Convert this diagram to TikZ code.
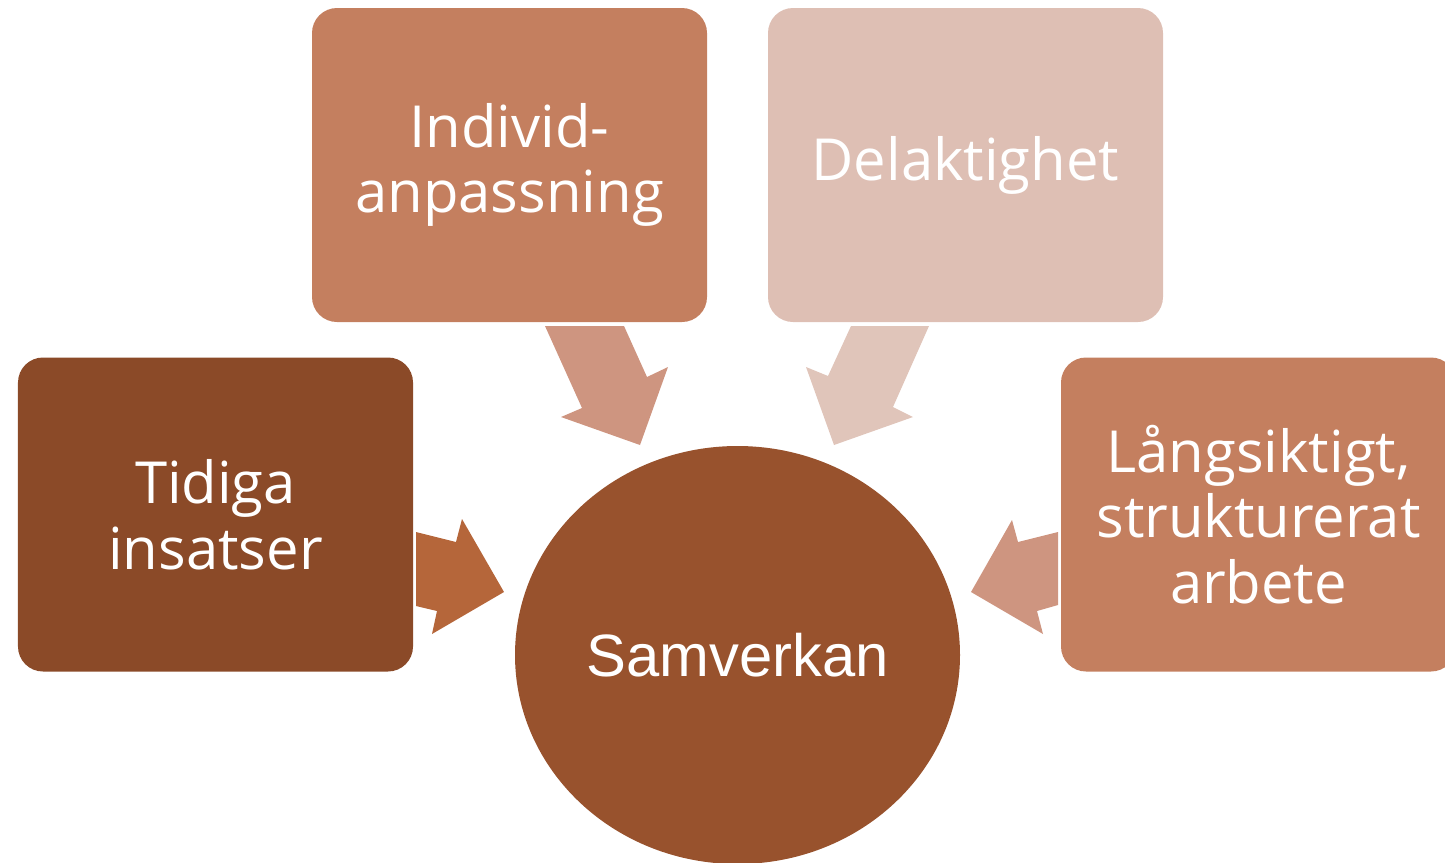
\documentclass[tikz,border=0pt]{standalone}
\usepackage{fontspec}
\setmainfont{Open Sans}
\newfontfamily\hubfont{Liberation Sans}
\usetikzlibrary{shapes.geometric}

\definecolor{boxdark}{HTML}{8B4A28}
\definecolor{boxmid}{HTML}{C47F5F}
\definecolor{boxlight}{HTML}{DEBFB4}
\definecolor{hubfill}{HTML}{98522D}
\definecolor{arrowdark}{HTML}{B5663A}
\definecolor{arrowmid}{HTML}{CE9580}
\definecolor{arrowlight}{HTML}{E0C5BA}

\tikzset{
  box/.style={rectangle, rounded corners=5mm, fill=#1, draw=none,
    minimum width=79mm, minimum height=62.8mm, inner sep=0pt,
    align=center, text=white, font=\fontsize{33}{37.4}\selectfont},
  hub/.style={ellipse, fill=hubfill, draw=none, minimum width=89mm,
    minimum height=83.6mm, inner sep=0pt, text=white,
    font=\hubfont\fontsize{34}{40}\selectfont},
  blockarrow/.style={fill=#1, draw=none}
}

\begin{document}
\begin{tikzpicture}[x=0.2mm,y=-0.2mm]
\useasboundingbox (0,0) rectangle (1445,862);
\clip (0,0) rectangle (1445,862);

\node[box=boxmid] (individ) at (509.5,165) {Individ-\\anpassning};
\node[box=boxlight] (delak) at (965.5,165) {Delaktighet};
\node[box=boxdark] (tidiga) at (215.5,514.5) {Tidiga\\insatser};
\node[box=boxmid] (langs) at (1258.5,514.5) {Långsiktigt,\\strukturerat\\arbete};

\node[hub] (samverkan) at (737.5,655) {Samverkan};

\fill[blockarrow=arrowdark] (416,532) -- (456,542) -- (462,519) -- (504,592)
  -- (432,634) -- (437,611) -- (416,606) -- cycle;
\fill[blockarrow=arrowmid] (545,326) -- (624,326) -- (647,377) -- (668,367)
  -- (640,445) -- (561,417) -- (582,408) -- cycle;
\fill[blockarrow=arrowlight] (851,326) -- (929,326) -- (893,407) -- (913,417)
  -- (834,445) -- (806,367) -- (828,376) -- cycle;
\fill[blockarrow=arrowmid] (1058,532) -- (1018,542) -- (1012,520) -- (971,592)
  -- (1043,634) -- (1037,611) -- (1058,605) -- cycle;
\end{tikzpicture}
\end{document}
